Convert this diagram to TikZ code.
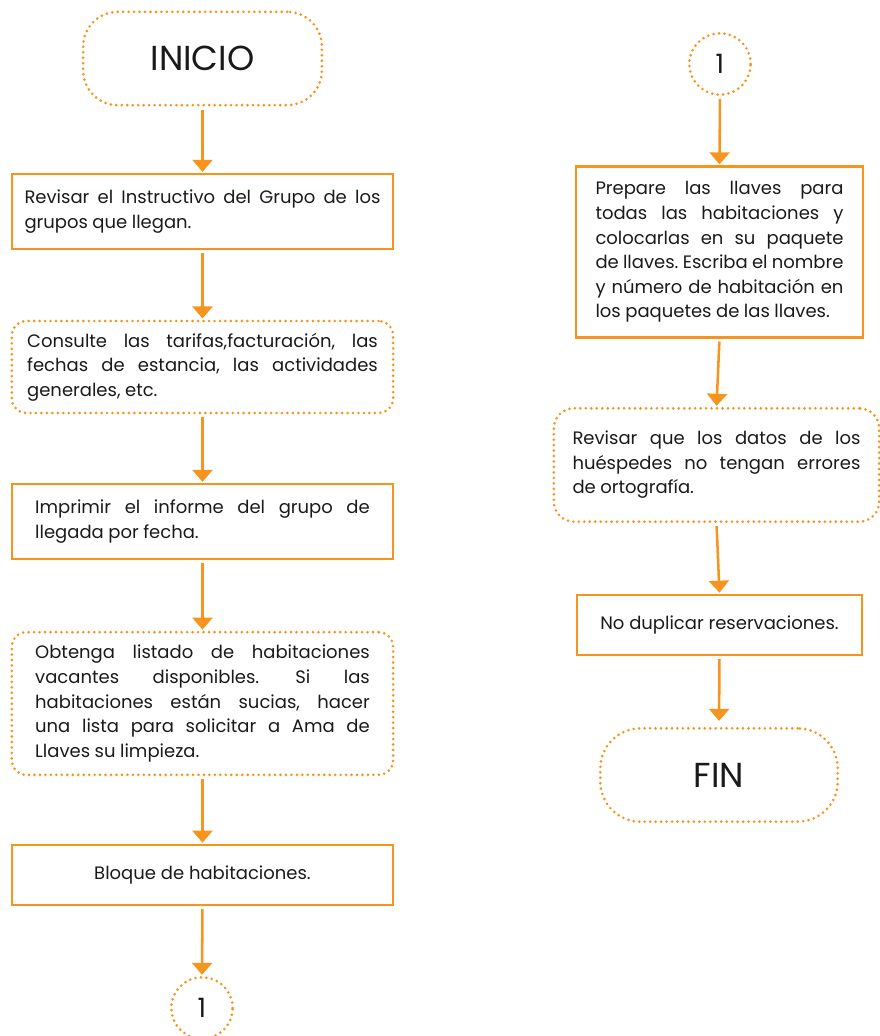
\documentclass[tikz,border=0pt]{standalone}
\usepackage{fontspec}
\setmainfont{Poppins}
\usetikzlibrary{arrows.meta}
\definecolor{orng}{HTML}{F7941D}
\definecolor{txt}{HTML}{1A1A1A}
\frenchspacing
\newcommand\jpar[2]{\vbox{\hsize=#1\relax\baselineskip=18.4pt #2}}
\newcommand\jl[1]{\hbox to\hsize{\spaceskip=0.25em plus 1fil minus 0.12em\relax #1}}
\newcommand\lastl[1]{\hbox{\spaceskip=0.25em plus 0.05em minus 0.1em\relax #1}}
\begin{document}
\begin{tikzpicture}[x=0.75pt,y=-0.75pt,
  box/.style={draw=orng, line width=1.9pt, inner sep=0pt, text=txt,
    font=\fontsize{13.5}{18.4}\selectfont},
  solidbox/.style={box},
  dotbox/.style={box, dash pattern=on 0pt off 4.1pt, line cap=round, line width=2.2pt},
  bigtext/.style={font=\fontsize{26}{30}\selectfont},
  arr/.style={draw=orng, line width=1.9pt, -{Triangle[width=15pt,length=9pt]},
    shorten <=2.2pt, shorten >=0.8pt},
]
\useasboundingbox (0,0) rectangle (880,1036);

% left column
\node[dotbox, rounded corners=26pt, minimum width=179pt, minimum height=70pt, bigtext]
  (start) at (202.5,58.5) {INICIO};
\node[solidbox, minimum width=286pt, minimum height=56pt] (b1) at (202.5,211.5)
  {\jpar{267pt}{\jl{Revisar el Instructivo del Grupo de los}\lastl{grupos que llegan.}}};
\node[dotbox, rounded corners=11pt, minimum width=286pt, minimum height=69pt] (b2) at (202.5,367)
  {\jpar{263pt}{\jl{Consulte las tarifas,facturación, las}\jl{fechas de estancia, las actividades}\lastl{generales, etc.}}};
\node[solidbox, minimum width=286pt, minimum height=56pt] (b3) at (202.5,521.5)
  {\jpar{251pt}{\jl{Imprimir el informe del grupo de}\lastl{llegada por fecha.}}};
\node[dotbox, rounded corners=11pt, minimum width=286pt, minimum height=107pt] (b4) at (202.5,703.5)
  {\jpar{251pt}{\jl{Obtenga listado de habitaciones}\jl{vacantes disponibles.\hskip 2em Si las}\jl{habitaciones están sucias, hacer}\jl{una lista para solicitar a Ama de}\lastl{Llaves su limpieza.}}};
\node[solidbox, minimum width=286pt, minimum height=45pt] (b5) at (202.5,875)
  {Bloque de habitaciones.};
\node[dotbox, circle, minimum size=46pt, font=\fontsize{20}{24}\selectfont] (c1) at (202,1008) {1};

% right column
\node[dotbox, circle, minimum size=46pt, font=\fontsize{20}{24}\selectfont] (c2) at (720,64) {1};
\node[solidbox, minimum width=215pt, minimum height=128pt] (b6) at (719.5,252)
  {\jpar{186pt}{\jl{Prepare las llaves para}\jl{todas las habitaciones y}\jl{colocarlas en su paquete}\jl{de llaves. Escriba el nombre}\jl{y número de habitación en}\lastl{los paquetes de las llaves.}}};
\node[dotbox, rounded corners=15pt, minimum width=244pt, minimum height=85pt] (b7) at (716.5,465)
  {\jpar{216pt}{\jl{Revisar que los datos de los}\jl{huéspedes no tengan errores}\lastl{de ortografía.}}};
\node[solidbox, minimum width=214pt, minimum height=45pt] (b8) at (719.5,625)
  {No duplicar reservaciones.};
\node[dotbox, rounded corners=30pt, minimum width=178pt, minimum height=70pt, bigtext]
  (fin) at (719,775) {FIN};

% connectors
\draw[arr] (start.south) -- (b1.north);
\draw[arr] (b1.south) -- (b2.north);
\draw[arr] (b2.south) -- (b3.north);
\draw[arr] (b3.south) -- (b4.north);
\draw[arr] (b4.south) -- (b5.north);
\draw[arr] (b5.south) -- (c1.north);
\draw[arr] (c2.south) -- (b6.north);
\draw[arr] (b6.south) -- (b7.north);
\draw[arr] (b7.south) -- (b8.north);
\draw[arr, shorten >=4.5pt] (b8.south) -- (fin.north);
\end{tikzpicture}
\end{document}
